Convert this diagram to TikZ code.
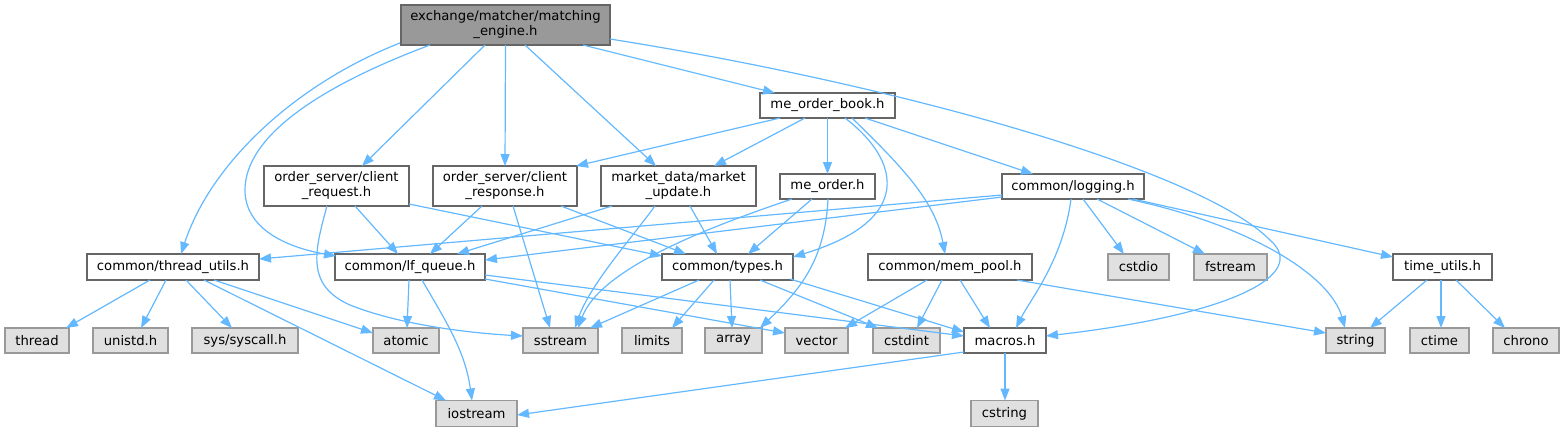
\documentclass[tikz,border=0pt]{standalone}
\usepackage{fontspec}
\setmainfont{DejaVu Sans}
\usetikzlibrary{arrows.meta,calc}
\definecolor{edgec}{HTML}{63B8FF}
\definecolor{docb}{HTML}{666666}
\definecolor{extb}{HTML}{999999}
\definecolor{extf}{HTML}{E0E0E0}
\definecolor{rootf}{HTML}{999999}
\begin{document}
\begin{tikzpicture}[x=1pt,y=-1pt,
  box/.style={draw=docb, line width=1.1pt, fill=white, inner sep=0pt, align=center,
    font=\fontsize{13.2pt}{15pt}\selectfont, text=black},
  ext/.style={box, draw=extb, fill=extf},
  wh/.style 2 args={minimum width=#1pt, minimum height=#2pt},
  e/.style={draw=edgec, line width=1.2pt, -{Triangle[length=12pt,width=9pt]}}]
\useasboundingbox (0,0) rectangle (1565,432);
% nodes
\node[box,wh={209}{40},fill=rootf] (root) at (505.5,25) {exchange/matcher/matching\\\_engine.h};
\node[box,wh={135}{25}] (mob) at (827.5,105.5) {me\_order\_book.h};
\node[box,wh={145}{40}] (req) at (336.5,186) {order\_server/client\\\_request.h};
\node[box,wh={144}{40}] (resp) at (505,186) {order\_server/client\\\_response.h};
\node[box,wh={155}{40}] (mku) at (678.5,186) {market\_data/market\\\_update.h};
\node[box,wh={95}{25}] (meo) at (827.5,186.5) {me\_order.h};
\node[box,wh={142}{25}] (log) at (1073,186.5) {common/logging.h};
\node[box,wh={172}{26}] (tu) at (173,267) {common/thread\_utils.h};
\node[box,wh={150}{26}] (lfq) at (410,267) {common/lf\_queue.h};
\node[box,wh={131}{26}] (types) at (727.5,267) {common/types.h};
\node[box,wh={164}{26}] (mp) at (950,267) {common/mem\_pool.h};
\node[ext,wh={61}{26}] (cstdio) at (1138.5,267) {cstdio};
\node[ext,wh={73}{26}] (fstream) at (1230.5,267) {fstream};
\node[box,wh={99}{26}] (tutil) at (1442.5,267) {time\_utils.h};
\node[ext,wh={64}{25}] (thread) at (37,340.5) {thread};
\node[ext,wh={75}{25}] (unistd) at (130.5,340.5) {unistd.h};
\node[ext,wh={106}{25}] (syscall) at (245,340.5) {sys/syscall.h};
\node[ext,wh={66}{25}] (atomic) at (406,340.5) {atomic};
\node[ext,wh={75}{25}] (sstream) at (560.5,340.5) {sstream};
\node[ext,wh={60}{25}] (limits) at (652,340.5) {limits};
\node[ext,wh={57}{25}] (array) at (733.5,340.5) {array};
\node[ext,wh={63}{25}] (vector) at (816.5,340.5) {vector};
\node[ext,wh={67}{25}] (cstdint) at (906.5,340.5) {cstdint};
\node[box,wh={82}{25}] (macros) at (1005,340.5) {macros.h};
\node[ext,wh={59}{25}] (string) at (1355.5,340.5) {string};
\node[ext,wh={59}{25}] (ctime) at (1439.5,340.5) {ctime};
\node[ext,wh={66}{25}] (chrono) at (1526,340.5) {chrono};
\node[ext,wh={81}{26}] (iostream) at (476.5,413.5) {iostream};
\node[ext,wh={67}{26}] (cstring) at (1004.5,413.5) {cstring};
% edges from root
\draw[e] ($(root)+(-105.5,18)$) .. controls (300,82) and (212,160) .. ($(tu)+(8,-13)$);
\draw[e] ($(root)+(-75.5,20)$) .. controls (310,90) and (245,140) .. (245,190) .. controls (245,228) and (285,247) .. ($(lfq)+(-74,-11)$);
\draw[e] ($(root)+(-20.5,20)$) -- ($(req)+(25.5,-20)$);
\draw[e] ($(root)+(0,20)$) -- ($(resp)+(0,-20)$);
\draw[e] ($(root)+(19.5,20)$) -- ($(mku)+(-22.5,-20)$);
\draw[e] ($(root)+(77.5,20)$) -- ($(mob)+(-52.5,-12.5)$);
\draw[e] ($(root)+(104.5,14)$) .. controls (900,85) and (1200,170) .. (1270,240) .. controls (1310,275) and (1230,315) .. ($(macros)+(41,-4.5)$);
% edges from me_order_book
\draw[e] ($(mob)+(-47.5,12.5)$) -- ($(resp)+(71,-20)$);
\draw[e] ($(mob)+(-22.5,12.5)$) -- ($(mku)+(35.5,-20)$);
\draw[e] ($(mob)+(0,12.5)$) -- ($(meo)+(0,-12.5)$);
\draw[e] ($(mob)+(17.5,12.5)$) .. controls (900,160) and (915,220) .. ($(types)+(65.5,-10)$);
\draw[e] ($(mob)+(24.5,12.5)$) .. controls (900,165) and (935,200) .. ($(mp)+(-5,-13)$);
\draw[e] ($(mob)+(37.5,12.5)$) -- ($(log)+(-40,-12.5)$);
% client_request
\draw[e] ($(req)+(18.5,20)$) -- ($(lfq)+(-12,-13)$);
\draw[e] ($(req)+(-9.5,20)$) .. controls (315,250) and (305,285) .. (350,305) .. controls (400,325) and (470,333) .. ($(sstream)+(-37.5,-4.5)$);
\draw[e] ($(req)+(72.5,18)$) -- ($(types)+(-65.5,-11)$);
% client_response
\draw[e] ($(resp)+(-23,20)$) -- ($(lfq)+(20,-13)$);
\draw[e] ($(resp)+(8,20)$) -- ($(sstream)+(-10.5,-12.5)$);
\draw[e] ($(resp)+(56,20)$) -- ($(types)+(-41.5,-13)$);
% market_update
\draw[e] ($(mku)+(-66.5,20)$) -- ($(lfq)+(47,-13)$);
\draw[e] ($(mku)+(-23.5,20)$) .. controls (630,240) and (590,285) .. ($(sstream)+(14.5,-12.5)$);
\draw[e] ($(mku)+(11.5,20)$) -- ($(types)+(-10.5,-13)$);
% me_order
\draw[e] ($(meo)+(-35.5,12.5)$) .. controls (700,230) and (600,270) .. ($(sstream)+(17.5,-12.5)$);
\draw[e] ($(meo)+(-15.5,12.5)$) -- ($(types)+(20.5,-13)$);
\draw[e] ($(meo)+(0.5,12.5)$) .. controls (825,260) and (800,290) .. ($(array)+(26.5,-12.5)$);
% logging
\draw[e] ($(log)+(-71,8.5)$) -- ($(tu)+(86,-8)$);
\draw[e] ($(log)+(-71,10.5)$) -- ($(lfq)+(75,-7)$);
\draw[e] ($(log)+(-2,12.5)$) .. controls (1063,260) and (1030,300) .. ($(macros)+(11,-12.5)$);
\draw[e] ($(log)+(10,12.5)$) -- ($(cstdio)+(-14.5,-13)$);
\draw[e] ($(log)+(24,12.5)$) -- ($(fstream)+(-25.5,-13)$);
\draw[e] ($(log)+(60,12.5)$) -- ($(tutil)+(-49.5,-10)$);
\draw[e] ($(log)+(55,12.5)$) .. controls (1250,225) and (1330,275) .. ($(string)+(-10.5,-12.5)$);
% thread_utils
\draw[e] ($(tu)+(-23,13)$) -- ($(thread)+(29,-12.5)$);
\draw[e] ($(tu)+(-7,13)$) -- ($(unistd)+(10.5,-12.5)$);
\draw[e] ($(tu)+(13,13)$) -- ($(syscall)+(-13,-12.5)$);
\draw[e] ($(tu)+(41,13)$) -- ($(atomic)+(-33,-7.5)$);
\draw[e] ($(tu)+(31,13)$) -- ($(iostream)+(-30.5,-13)$);
% lf_queue
\draw[e] ($(lfq)+(-1,13)$) -- ($(atomic)+(1,-12.5)$);
\draw[e] ($(lfq)+(12,13)$) .. controls (445,320) and (465,350) .. ($(iostream)+(-4.5,-13)$);
\draw[e] ($(lfq)+(75,12)$) -- ($(vector)+(-31.5,-7.5)$);
\draw[e] ($(lfq)+(75,8)$) -- ($(macros)+(-41,-4.5)$);
% types
\draw[e] ($(types)+(-28.5,13)$) -- ($(sstream)+(29.5,-12.5)$);
\draw[e] ($(types)+(-13.5,13)$) -- ($(limits)+(20,-12.5)$);
\draw[e] ($(types)+(2.5,13)$) -- ($(array)+(-1.5,-12.5)$);
\draw[e] ($(types)+(32.5,13)$) -- ($(cstdint)+(-28.5,-12.5)$);
\draw[e] ($(types)+(62.5,12)$) -- ($(macros)+(-41,-8.5)$);
% mem_pool
\draw[e] ($(mp)+(-23,13)$) -- ($(vector)+(28.5,-12.5)$);
\draw[e] ($(mp)+(-8,13)$) -- ($(cstdint)+(10.5,-12.5)$);
\draw[e] ($(mp)+(10,13)$) -- ($(macros)+(-15,-12.5)$);
\draw[e] ($(mp)+(67,13)$) -- ($(string)+(-29.5,-7.5)$);
% time_utils
\draw[e] ($(tutil)+(-15.5,13)$) -- ($(string)+(14.5,-12.5)$);
\draw[e] ($(tutil)+(-1.5,13)$) -- ($(ctime)+(1.5,-12.5)$);
\draw[e] ($(tutil)+(13.5,13)$) -- ($(chrono)+(-21,-12.5)$);
% macros
\draw[e] ($(macros)+(0,12.5)$) -- ($(cstring)+(0.5,-13)$);
\draw[e] ($(macros)+(-41,11.5)$) -- ($(iostream)+(40.5,1.5)$);
\end{tikzpicture}
\end{document}
